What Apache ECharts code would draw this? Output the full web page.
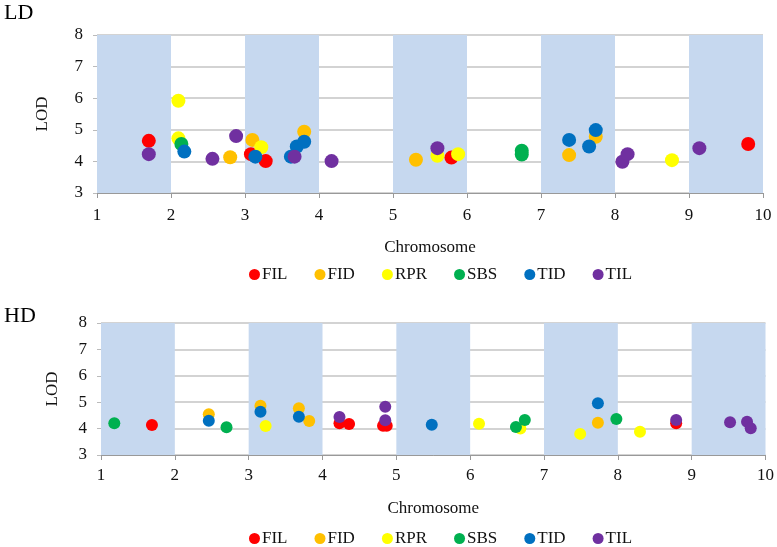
<!DOCTYPE html>
<html>
<head>
<meta charset="utf-8">
<script src="https://cdn.jsdelivr.net/npm/echarts@6/dist/echarts.min.js"></script>
<style>
  html, body { margin: 0; padding: 0; background: #fff; }
  #main { width: 777px; height: 547px; }
</style>
</head>
<body>
<div id="main"></div>
<script>
// traits and colours
var traits = ['FIL', 'FID', 'RPR', 'SBS', 'TID', 'TIL'];
var traitColors = ['#ff0000', '#ffc000', '#ffff00', '#00b050', '#0070c0', '#7030a0'];
// chromosome intervals that are shaded
var shadedChrom = [1, 3, 5, 7, 9];

// LD panel  [chromosome position, LOD]
var ldFIL = [[1.70, 4.65], [3.08, 4.23], [3.28, 4.01], [5.79, 4.12], [9.80, 4.55]];
var ldFID = [[2.80, 4.13], [3.10, 4.68], [3.80, 4.94], [5.31, 4.05], [7.38, 4.20], [7.74, 4.78]];
var ldRPR = [[2.10, 5.92], [2.10, 4.73], [3.22, 4.45], [5.60, 4.18], [5.88, 4.23], [8.77, 4.04]];
var ldSBS = [[2.14, 4.55], [6.74, 4.34], [6.74, 4.22]];
var ldTID = [[2.18, 4.31], [3.14, 4.15], [3.62, 4.15], [3.70, 4.47], [3.80, 4.62], [7.38, 4.68], [7.65, 4.47], [7.74, 4.99]];
var ldTIL = [[1.70, 4.23], [2.56, 4.08], [2.88, 4.80], [3.67, 4.15], [4.17, 4.01], [5.60, 4.42], [8.10, 3.99], [8.17, 4.23], [9.14, 4.42]];

// HD panel
var hdFIL = [[1.69, 4.14], [4.23, 4.20], [4.36, 4.17], [4.82, 4.11], [4.87, 4.11], [8.79, 4.20]];
var hdFID = [[2.46, 4.54], [3.16, 4.87], [3.68, 4.77], [3.82, 4.29], [7.73, 4.22]];
var hdRPR = [[3.23, 4.10], [6.12, 4.18], [6.68, 4.00], [7.49, 3.80], [8.30, 3.88]];
var hdSBS = [[1.18, 4.20], [2.70, 4.05], [6.62, 4.06], [6.74, 4.33], [7.98, 4.36]];
var hdTID = [[2.46, 4.30], [3.16, 4.64], [3.68, 4.45], [5.48, 4.15], [7.73, 4.96]];
var hdTIL = [[4.23, 4.44], [4.85, 4.83], [4.85, 4.32], [8.79, 4.33], [9.52, 4.24], [9.75, 4.26], [9.80, 4.01]];

var ldData = [ldFIL, ldFID, ldRPR, ldSBS, ldTID, ldTIL];
var hdData = [hdFIL, hdFID, hdRPR, hdSBS, hdTID, hdTIL];

var font = 'Liberation Serif';
var chart = echarts.init(document.getElementById('main'), null, { renderer: 'canvas' });

function xAxisFor(gridIndex, nameGap, labelMargin) {
  return {
    gridIndex: gridIndex, type: 'value', min: 1, max: 10, interval: 1,
    name: 'Chromosome', nameLocation: 'middle', nameGap: nameGap,
    nameTextStyle: { fontFamily: font, fontSize: 17, color: '#111' },
    axisLine: { show: true, lineStyle: { color: '#999' } },
    axisTick: { show: true, length: 5, lineStyle: { color: '#999' } },
    axisLabel: { fontFamily: font, fontSize: 17, color: '#111', margin: labelMargin },
    splitLine: { show: false }
  };
}
function yAxisFor(gridIndex, nameGap) {
  return {
    gridIndex: gridIndex, type: 'value', min: 3, max: 8, interval: 1,
    name: 'LOD', nameLocation: 'middle', nameGap: nameGap,
    nameTextStyle: { fontFamily: font, fontSize: 17, color: '#111' },
    axisLine: { show: false },
    axisTick: { show: true, length: 4, lineStyle: { color: '#bbb' } },
    axisLabel: { fontFamily: font, fontSize: 17, color: '#111', margin: 14 },
    splitLine: { show: true, lineStyle: { color: '#c4c4c4', width: 1.5 } }
  };
}

// shaded bands, one dummy series per panel
function bandSeries(idx) {
  return {
    type: 'scatter', xAxisIndex: idx, yAxisIndex: idx, data: [], silent: true,
    markArea: {
      silent: true,
      itemStyle: { color: '#c6d8ef' },
      data: shadedChrom.map(function (c) { return [{ xAxis: c, yAxis: 3 }, { xAxis: c + 1, yAxis: 8 }]; })
    }
  };
}

var series = [bandSeries(0), bandSeries(1)];
traits.forEach(function (t, i) {
  series.push({
    name: t, type: 'scatter', xAxisIndex: 0, yAxisIndex: 0,
    data: ldData[i], symbolSize: 14,
    itemStyle: { color: traitColors[i], opacity: 1 }
  });
});
traits.forEach(function (t, i) {
  series.push({
    name: t, type: 'scatter', xAxisIndex: 1, yAxisIndex: 1,
    data: hdData[i], symbolSize: 12,
    itemStyle: { color: traitColors[i], opacity: 1 }
  });
});

function legendAt(top) {
  return {
    data: traits, top: top, left: 244, icon: 'circle',
    itemWidth: 11, itemHeight: 11, itemGap: 27,
    textStyle: { fontFamily: font, fontSize: 17, color: '#111', padding: [0, 0, 0, -3] }
  };
}

var option = {
  animation: false,
  backgroundColor: '#fff',
  title: [
    { text: 'LD', left: -1, top: -3, textStyle: { fontFamily: font, fontSize: 22, fontWeight: 'normal', color: '#000' } },
    { text: 'HD', left: -1, top: 300, textStyle: { fontFamily: font, fontSize: 22, fontWeight: 'normal', color: '#000' } }
  ],
  legend: [legendAt(261), legendAt(525)],
  grid: [
    { left: 97, right: 14, top: 35, height: 158 },
    { left: 101, right: 10, top: 323, height: 132 }
  ],
  xAxis: [xAxisFor(0, 46, 14), xAxisFor(1, 45, 12)],
  yAxis: [yAxisFor(0, 46), yAxisFor(1, 40)],
  series: series
};
chart.setOption(option);
</script>
</body>
</html>
